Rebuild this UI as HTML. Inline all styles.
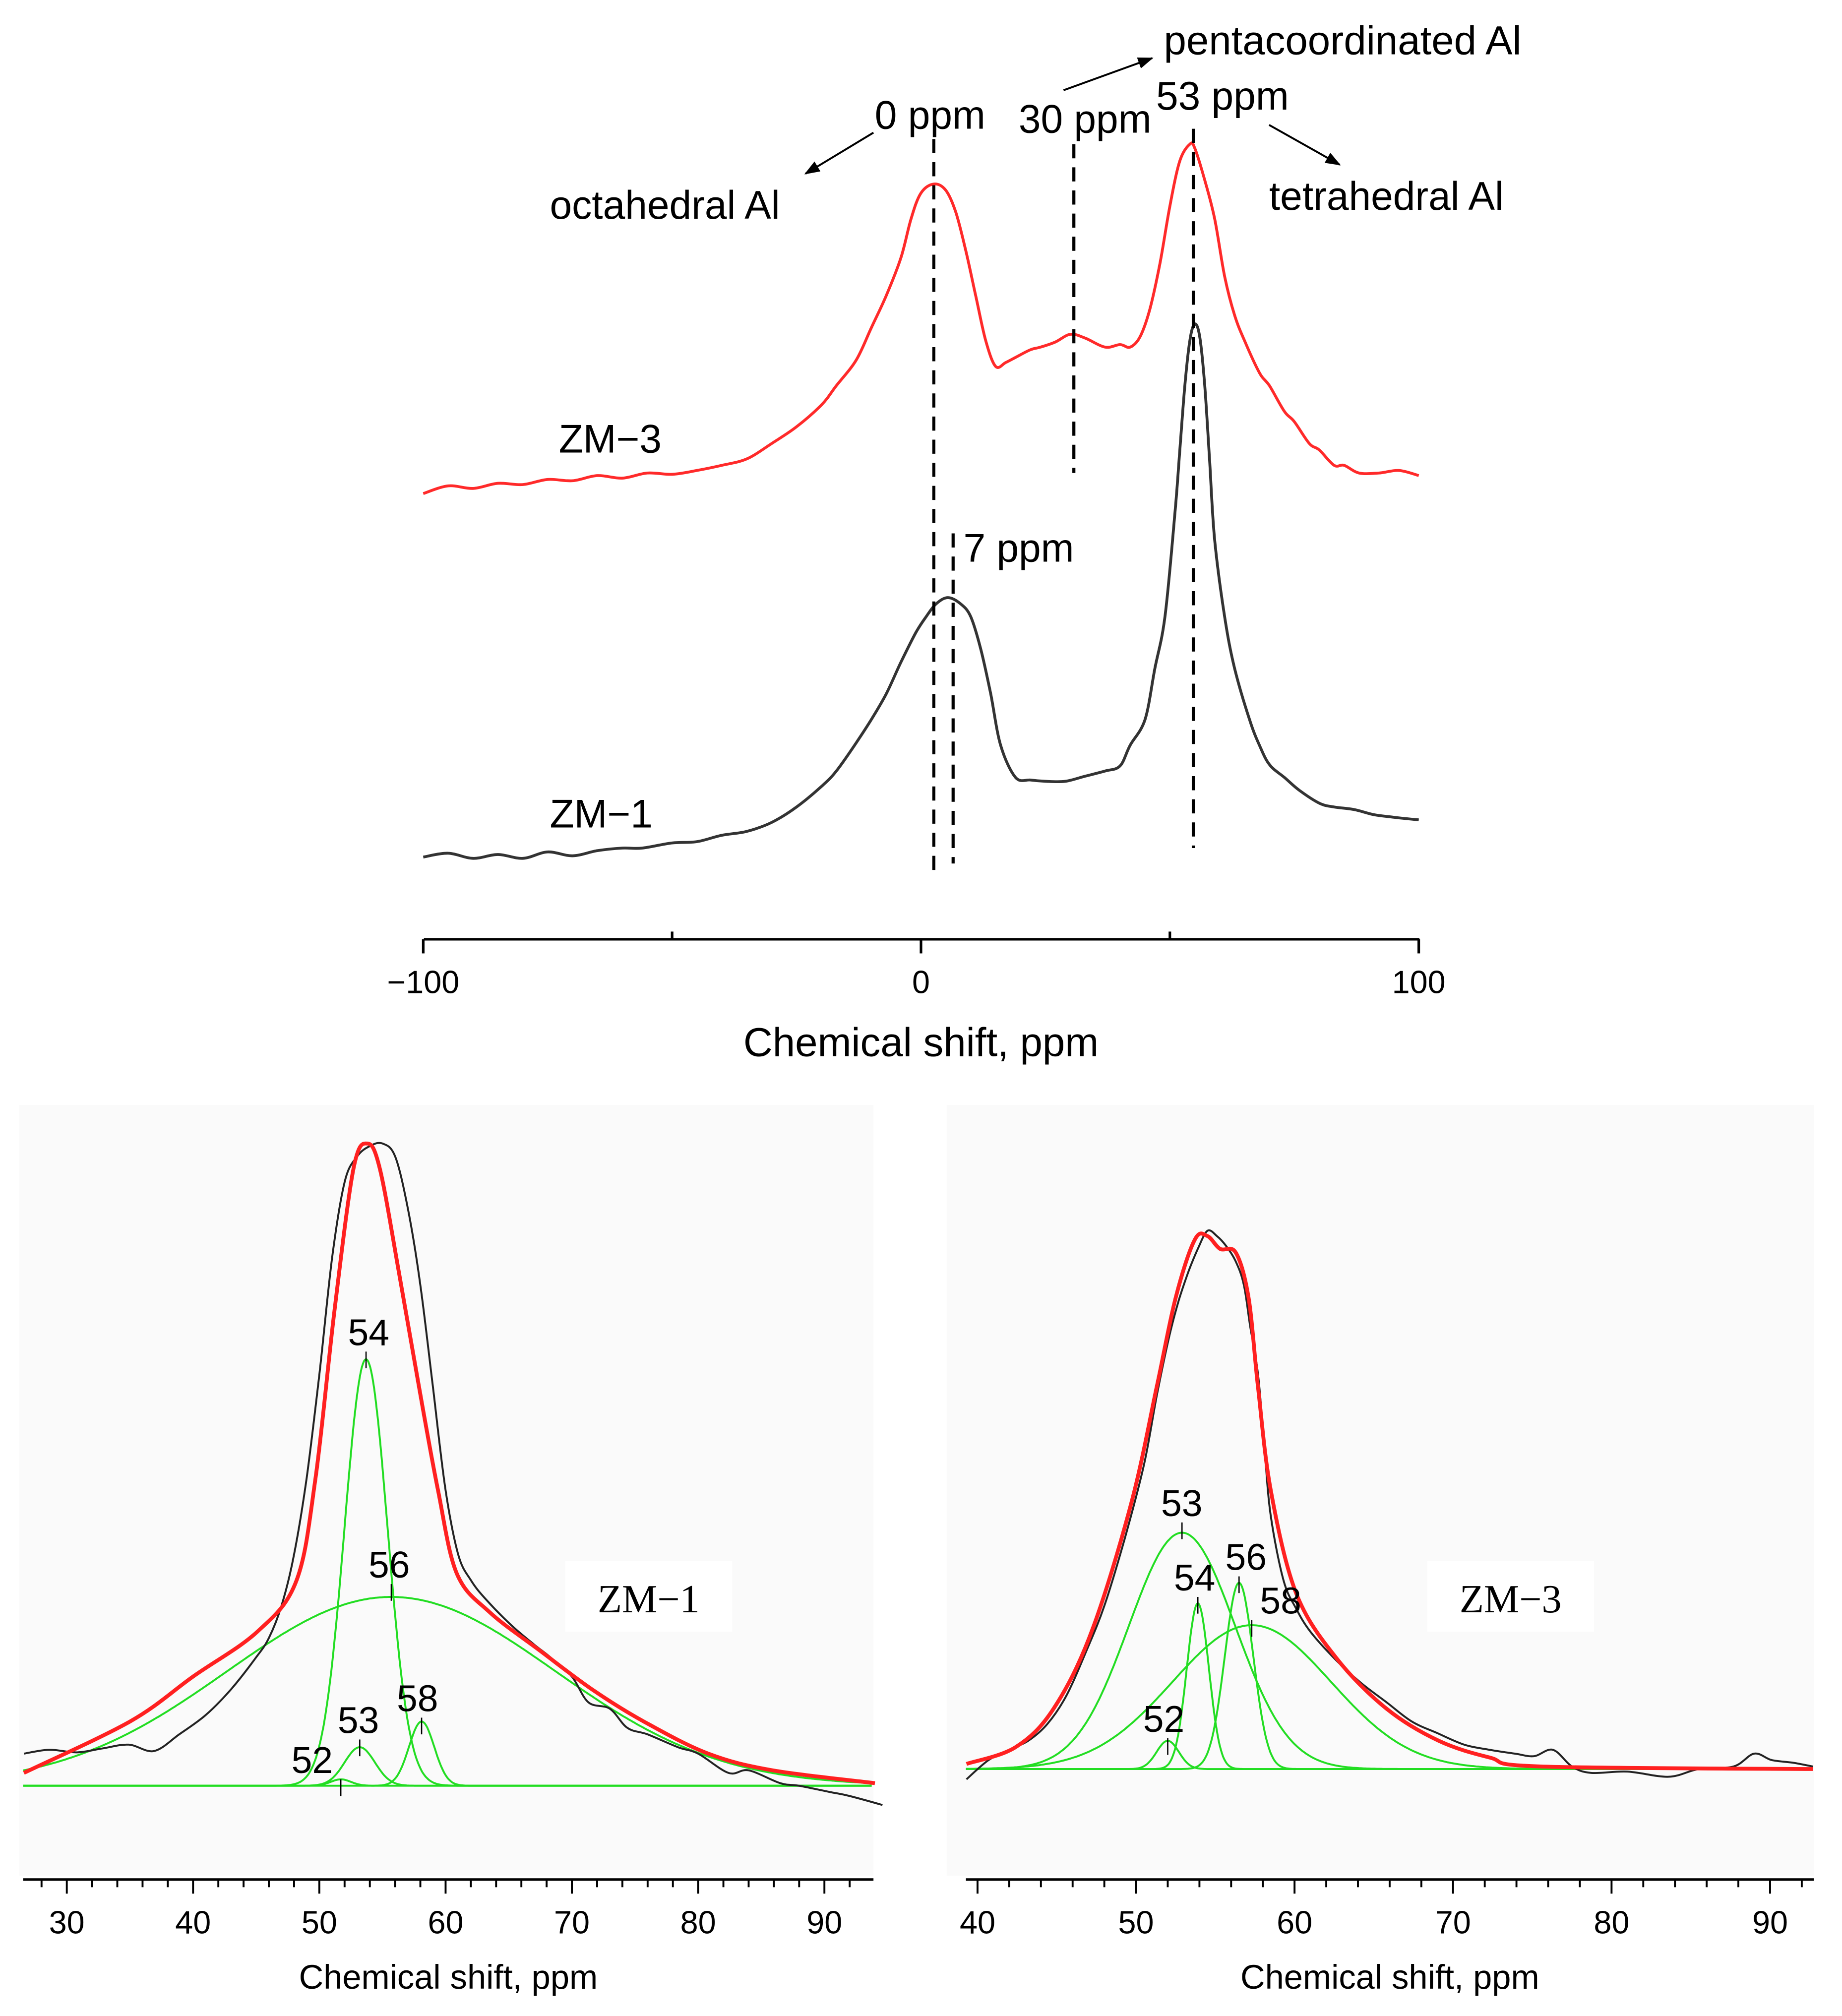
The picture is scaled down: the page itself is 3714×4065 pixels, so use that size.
<!DOCTYPE html>
<html><head><meta charset="utf-8"><style>
html,body{margin:0;padding:0;background:#fff}
svg{display:block}
text{font-family:"Liberation Sans",sans-serif;fill:#000}
text.serif{font-family:"Liberation Serif",serif}
</style></head><body>
<svg id="s" width="3714" height="4065" viewBox="0 0 1434 1569" xmlns="http://www.w3.org/2000/svg">
<rect width="1434" height="1569" fill="#fff"/>
<rect x="15" y="860" width="665" height="600" fill="#fafafa"/>
<rect x="737" y="860" width="675" height="600" fill="#fafafa"/>
<g id="top"></g>
<g id="bl"></g>
<g id="br"></g>
</svg>
<script>
// ---------- top chart data ----------
const topZM3ppm = [-100,-95,-90,-85,-80,-75,-70,-65,-60,-55,-50,-45,-40,-35,-30,-25,-20,-17,-13,-10,-7,-4,-2,0,2.6,5,7,9,11,13,15,17,19,22,24,27,30,33,37,40,42,44,46,48,50,52,54,55,57,59,61,63,65,68,70,73,75,78,80,83,85,88,92,96,100];
const topZM3val = [384,378,380,376,377,373,374,370,372,368,369,366,362,357,345,332,315,300,280,255,230,200,170,150,143,148,165,195,230,265,285,282,278,272,270,266,260,263,270,268,270,262,240,205,160,125,112,115,140,170,215,245,265,290,300,320,328,345,350,362,362,368,368,366,370];
const topZM1ppm = [-100,-95,-90,-85,-80,-75,-70,-65,-60,-56,-50,-45,-40,-35,-30,-25,-20,-17,-13,-10,-7,-4,-1,1,3,5.4,8,10,12,14,16,19,22,25,29,33,37,40,42,45,47,49,51,52,53,54,55,56,57,58,59,61,63,66,68,70,73,76,80,83,87,91,95,100];
const topZM1val = [667,664,668,665,668,663,666,662,660,660,656,655,650,647,640,628,612,600,578,560,540,515,492,480,470,465,470,480,505,540,580,605,607,608,608,604,600,596,580,560,520,480,400,350,300,265,252,262,300,360,420,480,520,560,580,595,605,615,625,628,630,634,636,638];
const topTicks = [-100,0,100];
const topTickLabels = ["\u2212100","0","100"];
// ---------- bottom-left data ----------
const blPeaks = [54,56,53,52,58];
const blCenters = [53.7,55.7,53.2,51.7,58.1];
const blHeights = [332,147,30,5,50];
const blSigmas = [1.7,13,1.2,0.8,1.0];
const blRedPpm = [26.6,35,40,45.1,48.2,49.7,51.2,52.7,53.8,54.8,56.3,57.9,59.4,60.9,63.5,67.5,71.6,75.7,80.8,85.9,94.0];
const blRedVal = [10,50,85,120,160,240,370,480,500,480,400,310,230,165,135,105,75,50,25,12,2];
const blBlackPpm = [26.6,28.6,30.8,32.8,34.9,36.9,38.9,41,43,45,46,47,48,49,50,51,52,53,54,55,56,57,58,59,60,61,62,63.2,65.2,67,68.3,70,71.3,73,74.4,76,78.4,80,82.4,84,86.5,88,90.5,92,94.6];
const blBlackVal = [25,28,26,29,32,27,40,55,75,100,115,140,180,240,320,410,470,490,498,500,490,450,390,310,230,180,160,145,125,110,100,85,65,60,45,40,30,25,10,12,2,0,-5,-8,-15];
const blTicks = [30,40,50,60,70,80,90];
// ---------- bottom-right data ----------
const brPeaks = [53,54,56,58,52];
const brCenters = [52.9,53.9,56.5,57.3,52.0];
const brHeights = [184,129,145,112,22];
const brSigmas = [3.35,0.7,0.9,5,0.7];
const brRedPpm = [39.3,42.4,44.8,47.2,49.7,51.3,52.5,53.7,54.5,55.3,56.3,57.1,57.7,58.5,60.1,62.6,65.8,69.1,72.3,75.5,92.7];
const brRedVal = [4,17,47,107,207,297,367,412,415,405,402,367,297,217,137,87,47,22,9,2,0];
const brBlackPpm = [39.3,40.7,42,43.2,44.4,45.6,46.8,48,49.3,50.5,51.3,52.1,52.7,53.3,53.9,54.5,55.1,55.7,56.3,56.8,57.2,57.7,58.1,58.5,59.3,60.1,61,62.6,64.2,65.8,67.4,69,70.7,72.3,73.9,75.1,76.3,77.5,78.7,81,83.6,85.5,87.7,89,90.1,91.4,92.7];
const brBlackVal = [-8,7,15,22,35,57,90,127,180,237,290,337,365,387,405,419,415,407,395,377,345,307,250,197,147,125,107,85,67,52,37,28,19,15,12,10,15,2,-3,-2,-6,0,2,12,7,5,2];
const brTicks = [40,50,60,70,80,90];

const NS="http://www.w3.org/2000/svg";
function el(parent,tag,attrs,txt){const e=document.createElementNS(NS,tag);for(const k in attrs)e.setAttribute(k,attrs[k]);if(txt!==undefined)e.textContent=txt;parent.appendChild(e);return e;}
function gauss(x,c,h,s){return h*Math.exp(-0.5*((x-c)/s)**2);}
function smoothPath(pts){
  let d='M'+pts[0][0].toFixed(1)+','+pts[0][1].toFixed(1);
  for(let i=0;i<pts.length-1;i++){
    const p0=pts[Math.max(0,i-1)],p1=pts[i],p2=pts[i+1],p3=pts[Math.min(pts.length-1,i+2)];
    const c1=[p1[0]+(p2[0]-p0[0])/6,p1[1]+(p2[1]-p0[1])/6];
    const c2=[p2[0]-(p3[0]-p1[0])/6,p2[1]-(p3[1]-p1[1])/6];
    d+='C'+c1[0].toFixed(1)+','+c1[1].toFixed(1)+' '+c2[0].toFixed(1)+','+c2[1].toFixed(1)+' '+p2[0].toFixed(1)+','+p2[1].toFixed(1);
  }
  return d;
}
function poly(g,xs,ys,fx,fy,color,w,name){
  const pts=xs.map((x,i)=>[fx(x),fy(ys[i])]);
  const p=el(g,'path',{d:smoothPath(pts),fill:'none',stroke:color,'stroke-width':w,'stroke-linejoin':'round'});
  
  
  return p;
}

// ----- TOP -----
const T=document.getElementById('top');
const tx=p=>717+3.875*p;
poly(T,topZM3ppm,topZM3val,tx,v=>v,'#ff2a2a',2.2,'zm3-spectrum');
poly(T,topZM1ppm,topZM1val,tx,v=>v,'#333',2.2,'zm1-spectrum');
[[727,108,678],[742,415,672],[836,112,368],[929,100,660]].forEach(a=>{
  const l=el(T,'line',{x1:a[0],x2:a[0],y1:a[1],y2:a[2],stroke:'#000','stroke-width':2.4,'stroke-dasharray':'11,7'});
  
  
});
const ax=el(T,'line',{x1:330,x2:1105,y1:731,y2:731,stroke:'#000','stroke-width':2});


topTicks.forEach((t,i)=>{
  const tk=el(T,'line',{x1:tx(t),x2:tx(t),y1:731,y2:742,stroke:'#000','stroke-width':2});
  
  
  const lb=el(T,'text',{x:tx(t),y:773,'font-size':25,'text-anchor':'middle'},topTickLabels[i]);
  
  
});
[-50,50].forEach(t=>{const m=el(T,'line',{x1:tx(t),x2:tx(t),y1:731,y2:725,stroke:'#000','stroke-width':2});
  
  });
const labels=[["0 ppm",681,100,31,'start'],["30 ppm",793,103,31,'start'],["53 ppm",900,85,31,'start'],["pentacoordinated Al",906,42,31.5,'start'],["octahedral Al",428,170,31,'start'],["tetrahedral Al",988,163,31,'start'],["7 ppm",750,437,31,'start'],["ZM\u22123",435,352,31,'start'],["ZM\u22121",428,644,31,'start'],["Chemical shift, ppm",717,822,31.5,'middle']];
labels.forEach(a=>{const t=el(T,'text',{x:a[1],y:a[2],'font-size':a[3],'text-anchor':a[4]},a[0]);
  
  });
el(T,'defs',{}).innerHTML='<marker id="ah" markerWidth="12" markerHeight="9" refX="11" refY="4.5" orient="auto" markerUnits="userSpaceOnUse"><path d="M0,0L12,4.5L0,9z" fill="#000"/></marker>';
[[680,103,627,135],[828,70,897,45],[988,97,1043,128]].forEach(a=>{
  const l=el(T,'line',{x1:a[0],y1:a[1],x2:a[2],y2:a[3],stroke:'#000','stroke-width':1.5,'marker-end':'url(#ah)'});
  
  
});

// ----- bottom panels -----
function panel(g,x0,p0,ppx,base,axisX1,axisX2,ticks,centers,heights,sigmas,peaks,redP,redV,blackP,blackV,zmLabel,zmX,labelPos){
  const fx=p=>x0+(p-p0)*ppx, fy=v=>base-v;
  const pStart=p0+(axisX1-x0)/ppx, pEnd=p0+(axisX2-x0)/ppx;
  const xs=[];for(let p=pStart;p<=pEnd;p+=0.2)xs.push(p);
  centers.forEach((c,i)=>{
    poly(g,xs,xs.map(p=>gauss(p,c,heights[i],sigmas[i])),fx,fy,'#22dd22',1.5,'component-peak-'+peaks[i]);
  });
  poly(g,blackP,blackV,fx,fy,'#222',1.5,'experimental-spectrum');
  poly(g,redP,redV,fx,fy,'#ff2020',3,'fit-envelope');
  centers.forEach((c,i)=>{
    const lp=labelPos[i];
    const t=el(g,'text',{x:lp[0],y:lp[1],'font-size':29,'text-anchor':'middle'},String(peaks[i]));
    
    
    const tk=el(g,'line',{x1:fx(c),x2:fx(c),y1:lp[1]+5,y2:lp[1]+18,stroke:'#000','stroke-width':1});
    
    
  });
  const bg=el(g,'rect',{x:zmX-65,y:1215,width:130,height:55,fill:'#fff'});
  
  
  const z=el(g,'text',{x:zmX,y:1255,'font-size':31,'text-anchor':'middle','class':'serif'},zmLabel);
  
  
  const a=el(g,'line',{x1:axisX1,x2:axisX2,y1:1463,y2:1463,stroke:'#000','stroke-width':2});
  
  
  for(let p=Math.ceil(pStart/2)*2;p<=pEnd;p+=2){
    const major=p%10===0;
    const m=el(g,'line',{x1:fx(p),x2:fx(p),y1:1463,y2:major?1474:1469,stroke:'#000','stroke-width':1.5});
    
    
  }
  ticks.forEach(t=>{
    const lb=el(g,'text',{x:fx(t),y:1505,'font-size':25,'text-anchor':'middle'},String(t));
    
    
  });
  const tt=el(g,'text',{x:(axisX1+axisX2)/2,y:1548,'font-size':26.5,'text-anchor':'middle'},'Chemical shift, ppm');
  
  
}
panel(document.getElementById('bl'),52,30,9.83,1390,18,680,blTicks,blCenters,blHeights,blSigmas,blPeaks,blRedPpm,blRedVal,blBlackPpm,blBlackVal,'ZM\u22121',505,
  [[287,1047],[303,1228],[279,1349],[243,1380],[325,1332]]);
panel(document.getElementById('br'),761,40,12.34,1377,752,1412,brTicks,brCenters,brHeights,brSigmas,brPeaks,brRedPpm,brRedVal,brBlackPpm,brBlackVal,'ZM\u22123',1176,
  [[920,1180],[930,1238],[970,1222],[997,1256],[906,1348]]);
</script>
</body></html>
